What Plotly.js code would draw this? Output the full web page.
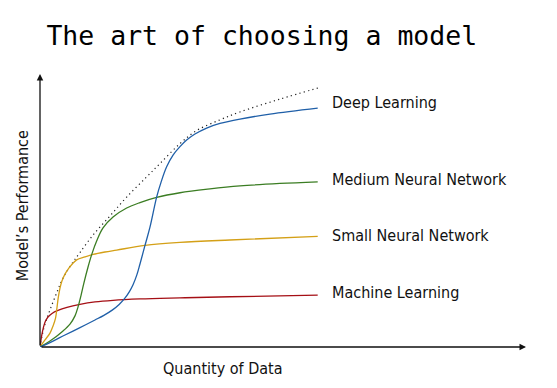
<!DOCTYPE html>
<html>
<head>
<meta charset="utf-8">
<script src="https://cdn.plot.ly/plotly-3.0.1.min.js"></script>
<style>html,body{margin:0;padding:0;background:#fff;}#chart{width:557px;height:388px;}</style>
</head>
<body>
<div id="chart"></div>
<script>
// Data (x: quantity of data, y: model performance)
const mlX = [0, 0.36, 0.72, 1.26, 1.98, 2.88, 4.32, 6.48, 9.72, 14.4, 19.8, 26.3, 36.0, 50.4, 68.4, 100];
const mlY = [0, 2.6, 4.8, 7.3, 9.5, 11.0, 12.3, 13.4, 14.5, 15.6, 16.5, 17.1, 17.6, 18.0, 18.4, 19.0];

const smallX = [0, 1.8, 3.6, 4.7, 5.6, 6.1, 6.6, 7.2, 7.9, 9.0, 10.4, 13.2, 16.2, 19.1, 23.4, 27.6, 37.8, 50.4, 68.4, 100];
const smallY = [0, 2.6, 5.1, 7.7, 10.6, 14.3, 18.3, 21.6, 24.2, 26.7, 28.9, 31.9, 33.0, 33.9, 34.8, 35.5, 37.2, 38.3, 39.2, 40.5];

const mediumX = [0, 3.6, 8.3, 10.8, 12.6, 13.7, 14.8, 15.8, 17.3, 18.7, 20.4, 22.7, 26.3, 31.2, 36.0, 42.0, 50.4, 61.2, 72.0, 86.4, 100];
const mediumY = [0, 2.2, 5.9, 8.4, 11.4, 14.7, 19.0, 23.4, 29.3, 34.1, 38.8, 43.6, 47.6, 50.9, 52.9, 54.8, 56.5, 57.9, 59.0, 59.9, 60.5];

const deepX = [0, 3.6, 9.0, 14.4, 19.8, 23.0, 26.0, 28.5, 30.5, 32.2, 33.5, 34.9, 36.0, 37.8, 39.6, 42.0, 43.6, 45.6, 47.9, 50.4, 52.8, 55.8, 60.0, 64.8, 72.0, 82.8, 100];
const deepY = [0, 1.6, 4.4, 7.1, 9.9, 11.6, 13.5, 15.6, 17.8, 20.3, 22.8, 26.5, 30.4, 37.2, 43.9, 54.9, 60.4, 66.0, 70.3, 73.4, 75.8, 78.0, 80.2, 81.9, 83.5, 85.3, 87.5];

const envX = [0, 0.72, 1.8, 3.6, 6.0, 8.3, 11.9, 14.4, 19.1, 25.2, 31.2, 38.4, 43.2, 50.4, 56.4, 64.8, 72.0, 86.4, 101.2];
const envY = [0, 4.0, 8.4, 13.6, 19.8, 25.3, 31.1, 34.6, 41.0, 48.0, 54.9, 62.3, 67.2, 74.5, 79.3, 83.2, 86.1, 90.8, 95.2];

const seriesNames = ["Deep Learning", "Medium Neural Network", "Small Neural Network", "Machine Learning"];
const labelY = [89.7, 61.2, 40.7, 20.1];
const labelX = 104.3;

const labelFont = "'DejaVu Sans Condensed', 'Liberation Sans Narrow', sans-serif";

const traces = [
  {x: envX, y: envY, mode: 'lines', line: {color: '#222', width: 1.2, dash: '1.2px,3.3px', shape: 'spline'}},
  {x: mlX, y: mlY, mode: 'lines', line: {color: '#a50f15', width: 1.3, shape: 'spline'}},
  {x: smallX, y: smallY, mode: 'lines', line: {color: '#d4a017', width: 1.3, shape: 'spline'}},
  {x: mediumX, y: mediumY, mode: 'lines', line: {color: '#3b7d23', width: 1.3, shape: 'spline'}},
  {x: deepX, y: deepY, mode: 'lines', line: {color: '#1f5fa8', width: 1.3, shape: 'spline'}}
];

const annotations = seriesNames.map((n, i) => ({
  x: labelX, y: labelY[i], xref: 'x', yref: 'y', text: n, showarrow: false,
  xanchor: 'left', yanchor: 'middle', font: {family: labelFont, size: 16, color: '#111'}
}));

// axis arrows
annotations.push({x: 175, y: 0, ax: 0, ay: 0, xref: 'x', yref: 'y', axref: 'x', ayref: 'y',
  text: '', showarrow: true, arrowhead: 2, arrowsize: 1, arrowwidth: 1.3, arrowcolor: '#111', standoff: 0});
annotations.push({x: 0, y: 100, ax: 0, ay: 0, xref: 'x', yref: 'y', axref: 'x', ayref: 'y',
  text: '', showarrow: true, arrowhead: 2, arrowsize: 1, arrowwidth: 1.3, arrowcolor: '#111', standoff: 0});

// axis titles
annotations.push({x: 0.3765, y: 0, xref: 'paper', yref: 'paper', yshift: -21, text: 'Quantity of Data',
  showarrow: false, xanchor: 'center', yanchor: 'middle', font: {family: labelFont, size: 16, color: '#111'}});
annotations.push({x: 0, y: 0.516, xref: 'paper', yref: 'paper', xshift: -18, text: "Model’s Performance",
  textangle: -90, showarrow: false, xanchor: 'center', yanchor: 'middle', font: {family: labelFont, size: 16, color: '#111'}});

const layout = {
  width: 557, height: 388,
  margin: {l: 40, r: 31, t: 74, b: 41},
  paper_bgcolor: '#fff', plot_bgcolor: '#fff',
  showlegend: false,
  title: {text: 'The art of choosing a model', x: 0.47, xanchor: 'center', y: 0.907, yanchor: 'middle',
    font: {family: "'DejaVu Sans Mono', monospace", size: 26.5, color: '#000'}},
  xaxis: {range: [0, 175], showgrid: false, zeroline: false, showticklabels: false, showline: false, ticks: ''},
  yaxis: {range: [0, 100], showgrid: false, zeroline: false, showticklabels: false, showline: false, ticks: ''},
  annotations: annotations
};

Plotly.newPlot('chart', traces, layout, {displayModeBar: false, staticPlot: true});
</script>
</body>
</html>
